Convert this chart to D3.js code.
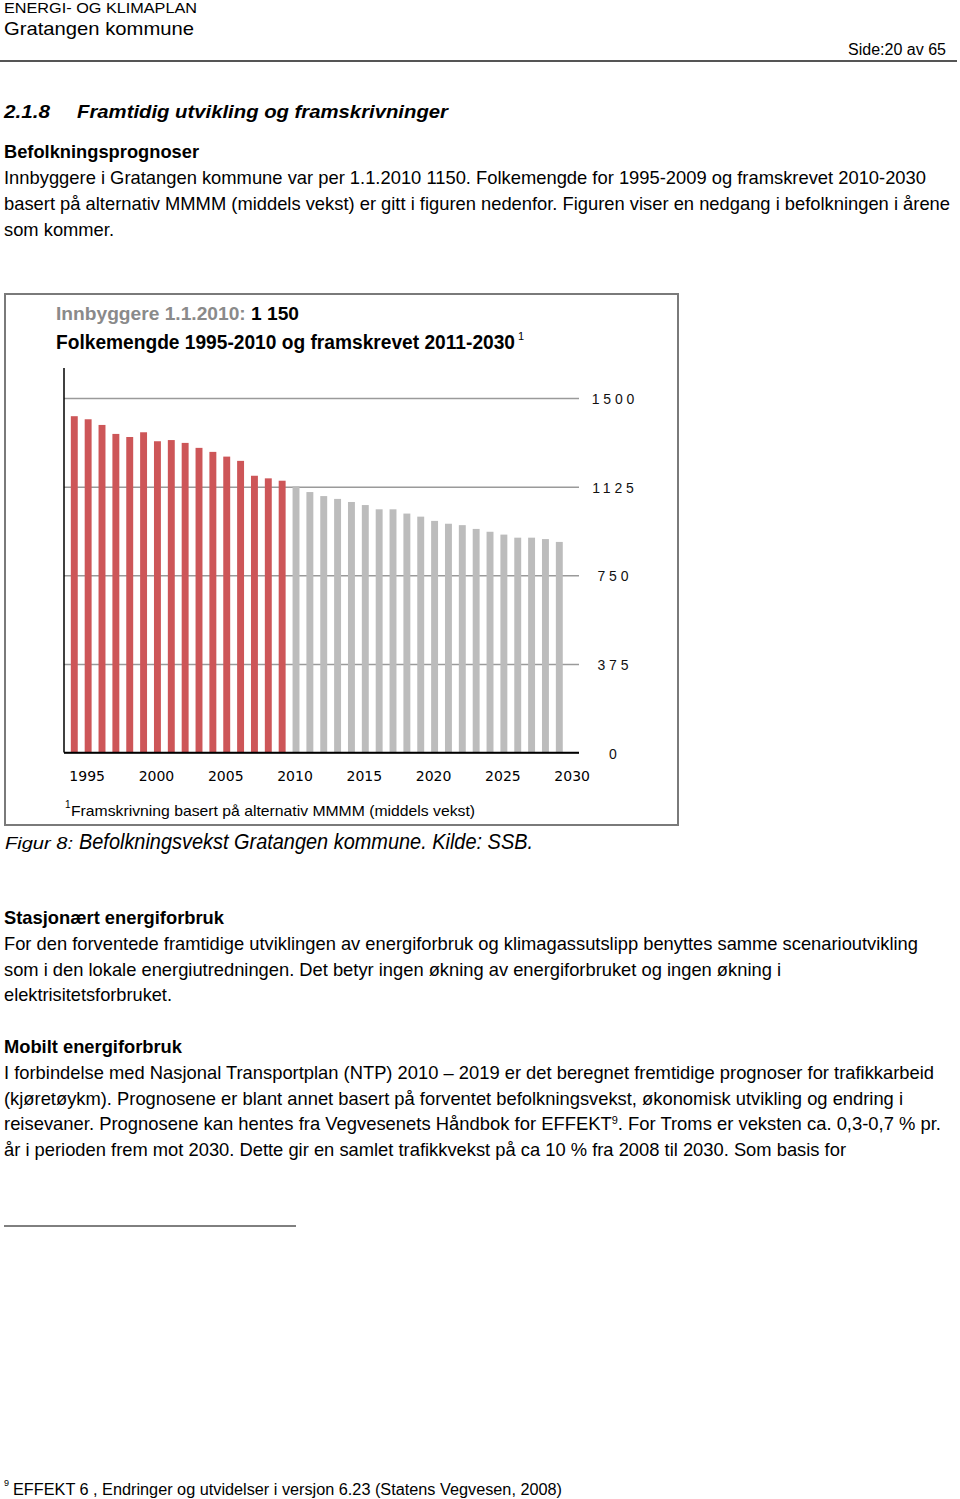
<!DOCTYPE html>
<html><head><meta charset="utf-8">
<script src="https://cdn.jsdelivr.net/npm/d3@7"></script>
<style>
html,body{margin:0;padding:0;background:#fff;}
svg{display:block;}
</style></head>
<body>
<svg id="page" width="960" height="1499"></svg>
<script>
// ---- data ----
const histYears = [1995,1996,1997,1998,1999,2000,2001,2002,2003,2004,2005,2006,2007,2008,2009,2010];
const histValues = [1423,1410,1386,1348,1335,1355,1317,1322,1310,1289,1272,1252,1234,1171,1160,1150];
const projYears = [2011,2012,2013,2014,2015,2016,2017,2018,2019,2020,2021,2022,2023,2024,2025,2026,2027,2028,2029,2030];
const projValues = [1127,1102,1085,1073,1060,1047,1029,1029,1011,998,980,968,962,946,934,922,909,909,903,891];
const xTickLabels = [1995,2000,2005,2010,2015,2020,2025,2030];
const yTickValues = [0,375,750,1125,1500];

const svg = d3.select("#page");
const NARROW = "'Liberation Sans Narrow','Arial Narrow','Liberation Sans',Arial,sans-serif";
const SANS = "'Liberation Sans',Arial,sans-serif";

function txt(x, y, s, opt) {
  opt = opt || {};
  const t = svg.append("text").attr("x", x).attr("y", y)
    .attr("font-family", opt.family || NARROW)
    .attr("font-size", opt.size || 18)
    .attr("font-weight", opt.weight || "normal")
    .attr("font-style", opt.style || "normal")
    .attr("fill", opt.fill || "#000");
  if (opt.anchor) t.attr("text-anchor", opt.anchor);
  if (opt.w) t.attr("textLength", opt.w).attr("lengthAdjust", "spacingAndGlyphs");
  if (Array.isArray(s)) {
    s.forEach(p => {
      const ts = t.append("tspan").text(p.t);
      if (p.sup) ts.attr("baseline-shift", "super").attr("font-size", p.sup);
      if (p.fill) ts.attr("fill", p.fill);
    });
  } else t.text(s);
  return t;
}

// ---- page header ----
txt(4, 13, "ENERGI- OG KLIMAPLAN", {size: 15, w: 193});
txt(4, 35, "Gratangen kommune", {size: 19, family: SANS, w: 190});
txt(848, 55, "Side:20 av 65", {size: 16, family: SANS, w: 98});
svg.append("line").attr("x1", 0).attr("x2", 957).attr("y1", 61).attr("y2", 61)
  .attr("stroke", "#555").attr("stroke-width", 2);

txt(4, 117.5, "2.1.8", {size: 18, family: SANS, weight: "bold", style: "italic", w: 46});
txt(77, 117.5, "Framtidig utvikling og framskrivninger", {size: 18, family: SANS, weight: "bold", style: "italic", w: 371});

const body = 18.5;
txt(4, 158, "Befolkningsprognoser", {size: 19, weight: "bold", w: 195});
txt(4, 184, "Innbyggere i Gratangen kommune var per 1.1.2010 1150. Folkemengde for 1995-2009 og framskrevet 2010-2030", {size: body, w: 922});
txt(4, 210, "basert på alternativ MMMM (middels vekst) er gitt i figuren nedenfor. Figuren viser en nedgang i befolkningen i årene", {size: body, w: 946});
txt(4, 236, "som kommer.", {size: body, w: 110});

// ---- chart frame ----
svg.append("rect").attr("x", 5).attr("y", 294).attr("width", 673).attr("height", 531)
  .attr("fill", "#fff").attr("stroke", "#7a7a7a").attr("stroke-width", 2);

txt(56, 320, [{t: "Innbyggere 1.1.2010: ", fill: "#8a8a8a"}, {t: "1 150", fill: "#000"}], {size: 18, weight: "bold", w: 243});
txt(56, 348.5, "Folkemengde 1995-2010 og framskrevet 2011-2030", {size: 20, weight: "bold", w: 459});
txt(518, 340, "1", {size: 11, family: SANS});

// ---- scales ----
const allYears = histYears.concat(projYears);
const x = d3.scaleBand().domain(allYears).range([63.9, 569.7]).paddingInner(0.5).paddingOuter(0.5);
const y = d3.scaleLinear().domain([0, 1500]).range([752.5, 398]);
const plotLeft = 64, plotRight = 579;

// gridlines
const grid = svg.append("g").attr("transform", `translate(${plotRight},0)`)
  .call(d3.axisLeft(y).tickValues(yTickValues).tickSize(plotRight - plotLeft).tickFormat(""));
grid.select(".domain").remove();
grid.selectAll(".tick line").attr("stroke", d => d === 0 ? "#000" : "#9a9a9a").attr("stroke-width", 1.5);

// bars
svg.append("g").selectAll("rect").data(histYears.map((yr, i) => ({yr, v: histValues[i]})))
  .join("rect")
  .attr("x", d => x(d.yr)).attr("width", x.bandwidth())
  .attr("y", d => y(d.v)).attr("height", d => y(0) - y(d.v))
  .attr("fill", "#cd5658");
svg.append("g").selectAll("rect").data(projYears.map((yr, i) => ({yr, v: projValues[i]})))
  .join("rect")
  .attr("x", d => x(d.yr)).attr("width", x.bandwidth())
  .attr("y", d => y(d.v)).attr("height", d => y(0) - y(d.v))
  .attr("fill", "#bcbcbc");

// baseline + left axis line
svg.append("line").attr("x1", plotLeft).attr("x2", plotRight).attr("y1", y(0)).attr("y2", y(0))
  .attr("stroke", "#000").attr("stroke-width", 1.5);
svg.append("line").attr("x1", plotLeft).attr("x2", plotLeft).attr("y1", 368).attr("y2", y(0))
  .attr("stroke", "#000").attr("stroke-width", 1.5);

// y tick labels (right side)
const yAx = svg.append("g").attr("transform", "translate(613,0)")
  .call(d3.axisRight(y).tickValues(yTickValues).tickSize(0).tickPadding(0).tickFormat(d3.format("d")));
yAx.select(".domain").remove();
yAx.selectAll("text").attr("text-anchor", "middle").attr("font-family", SANS)
  .attr("font-size", 14).attr("letter-spacing", 3.8).attr("fill", "#111").attr("dy", "0.4em").attr("dx", 1.9);

// x tick labels, offset one band to the right as in the original
const xAx = svg.append("g").attr("transform", `translate(${x.step() - 1},${y(0) + 23})`)
  .call(d3.axisBottom(x).tickValues(xTickLabels).tickSize(0).tickPadding(0));
xAx.select(".domain").remove();
xAx.selectAll("text").attr("font-family", "'DejaVu Sans',Verdana,sans-serif").attr("font-size", 14)
  .attr("fill", "#000").attr("dy", "0.4em");

txt(65, 808, "1", {size: 10, family: SANS});
txt(71, 816, "Framskrivning basert på alternativ MMMM (middels vekst)", {size: 15, family: SANS, w: 404});

// caption
txt(5, 849, "Figur 8:", {size: 17, family: SANS, style: "italic", w: 68});
txt(79, 849, "Befolkningsvekst Gratangen kommune. Kilde: SSB.", {size: 22, style: "italic", w: 454});

// ---- following sections ----
txt(4, 924, "Stasjonært energiforbruk", {size: 19, weight: "bold", w: 220});
txt(4, 950, "For den forventede framtidige utviklingen av energiforbruk og klimagassutslipp benyttes samme scenarioutvikling", {size: body, w: 914});
txt(4, 976, "som i den lokale energiutredningen. Det betyr ingen økning av energiforbruket og ingen økning i", {size: body, w: 777});
txt(4, 1001, "elektrisitetsforbruket.", {size: body, w: 168});

txt(4, 1053, "Mobilt energiforbruk", {size: 19, weight: "bold", w: 178});
txt(4, 1079, "I forbindelse med Nasjonal Transportplan (NTP) 2010 – 2019 er det beregnet fremtidige prognoser for trafikkarbeid", {size: body, w: 930});
txt(4, 1105, "(kjøretøykm). Prognosene er blant annet basert på forventet befolkningsvekst, økonomisk utvikling og endring i", {size: body, w: 899});
txt(4, 1130, [{t: "reisevaner. Prognosene kan hentes fra Vegvesenets Håndbok for EFFEKT"}, {t: "9", sup: 11}, {t: ". For Troms er veksten ca. 0,3-0,7 % pr."}], {size: body, w: 937});
txt(4, 1156, "år i perioden frem mot 2030. Dette gir en samlet trafikkvekst på ca 10 % fra 2008 til 2030. Som basis for", {size: body, w: 842});

svg.append("line").attr("x1", 4).attr("x2", 296).attr("y1", 1226).attr("y2", 1226)
  .attr("stroke", "#000").attr("stroke-width", 1);

txt(4, 1486, "9", {size: 9, family: SANS});
txt(13, 1495, "EFFEKT 6 , Endringer og utvidelser i versjon 6.23 (Statens Vegvesen, 2008)", {size: 16, family: SANS, w: 549});
</script>
</body></html>
